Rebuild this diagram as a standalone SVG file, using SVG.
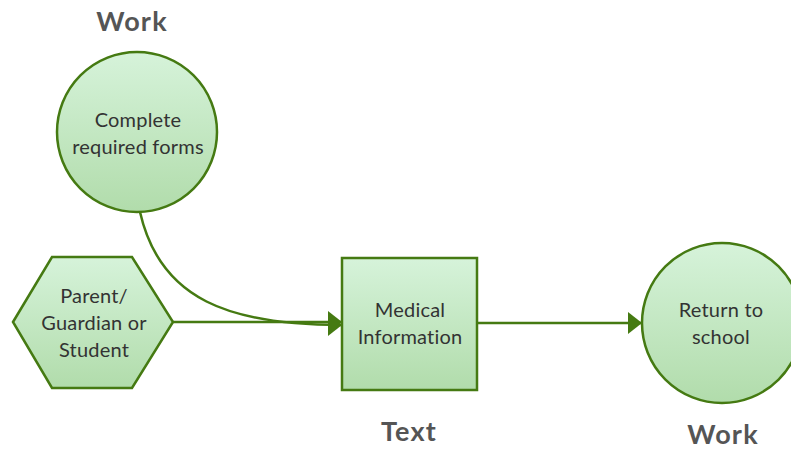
<svg xmlns="http://www.w3.org/2000/svg" width="791" height="449" viewBox="0 0 791 449">
  <defs>
    <linearGradient id="fillGreen" x1="0" y1="0" x2="0" y2="1">
      <stop offset="0" stop-color="#d6f3da"/>
      <stop offset="1" stop-color="#b1dcab"/>
    </linearGradient>
    <marker id="arrow" viewBox="0 0 14 22" refX="14" refY="11" markerWidth="14" markerHeight="22" markerUnits="userSpaceOnUse" orient="auto">
      <path d="M0,0 L14,11 L0,22 Z" fill="#457a12"/>
    </marker>
  </defs>
  <style>
    .shape { fill: url(#fillGreen); stroke: #457a12; stroke-width: 2.5; }
    .label { font-family: Lato, "Open Sans", sans-serif; font-size: 20px; letter-spacing: 0.2px; fill: #333; text-anchor: middle; }
    .title { font-family: Lato, "Open Sans", sans-serif; font-size: 27px; letter-spacing: 1.2px; font-weight: bold; fill: #555; text-anchor: middle; }
    .edge { fill: none; stroke: #457a12; stroke-width: 2.5; }
  </style>
  <rect width="791" height="449" fill="#ffffff"/>

  <g id="connectors">
    <path class="edge" d="M140,212 C160,300 230,325 342,325" marker-end="url(#arrow)"/>
    <path class="edge" d="M173,322 L342,322" marker-end="url(#arrow)"/>
    <path class="edge" d="M473,323 L642,323" marker-end="url(#arrow)"/>
  </g>

  <g id="complete-forms">
    <text class="title" x="132" y="31">Work</text>
    <circle class="shape" cx="137" cy="132" r="80"/>
    <text class="label" x="138" y="127">Complete</text>
    <text class="label" x="138" y="154">required forms</text>
  </g>

  <g id="parent-guardian">
    <polygon class="shape" points="13,322 52,257 132,257 173,322 132,388 52,388"/>
    <text class="label" x="94" y="303">Parent/</text>
    <text class="label" x="94" y="330">Guardian or</text>
    <text class="label" x="94" y="357">Student</text>
  </g>

  <g id="medical-info">
    <rect class="shape" x="342" y="258" width="135" height="132"/>
    <text class="label" x="410" y="317">Medical</text>
    <text class="label" x="410" y="344">Information</text>
    <text class="title" x="409" y="441">Text</text>
  </g>

  <g id="return-school">
    <circle class="shape" cx="722" cy="323" r="80"/>
    <text class="label" x="721" y="317">Return to</text>
    <text class="label" x="721" y="344">school</text>
    <text class="title" x="723" y="444">Work</text>
  </g>
</svg>
